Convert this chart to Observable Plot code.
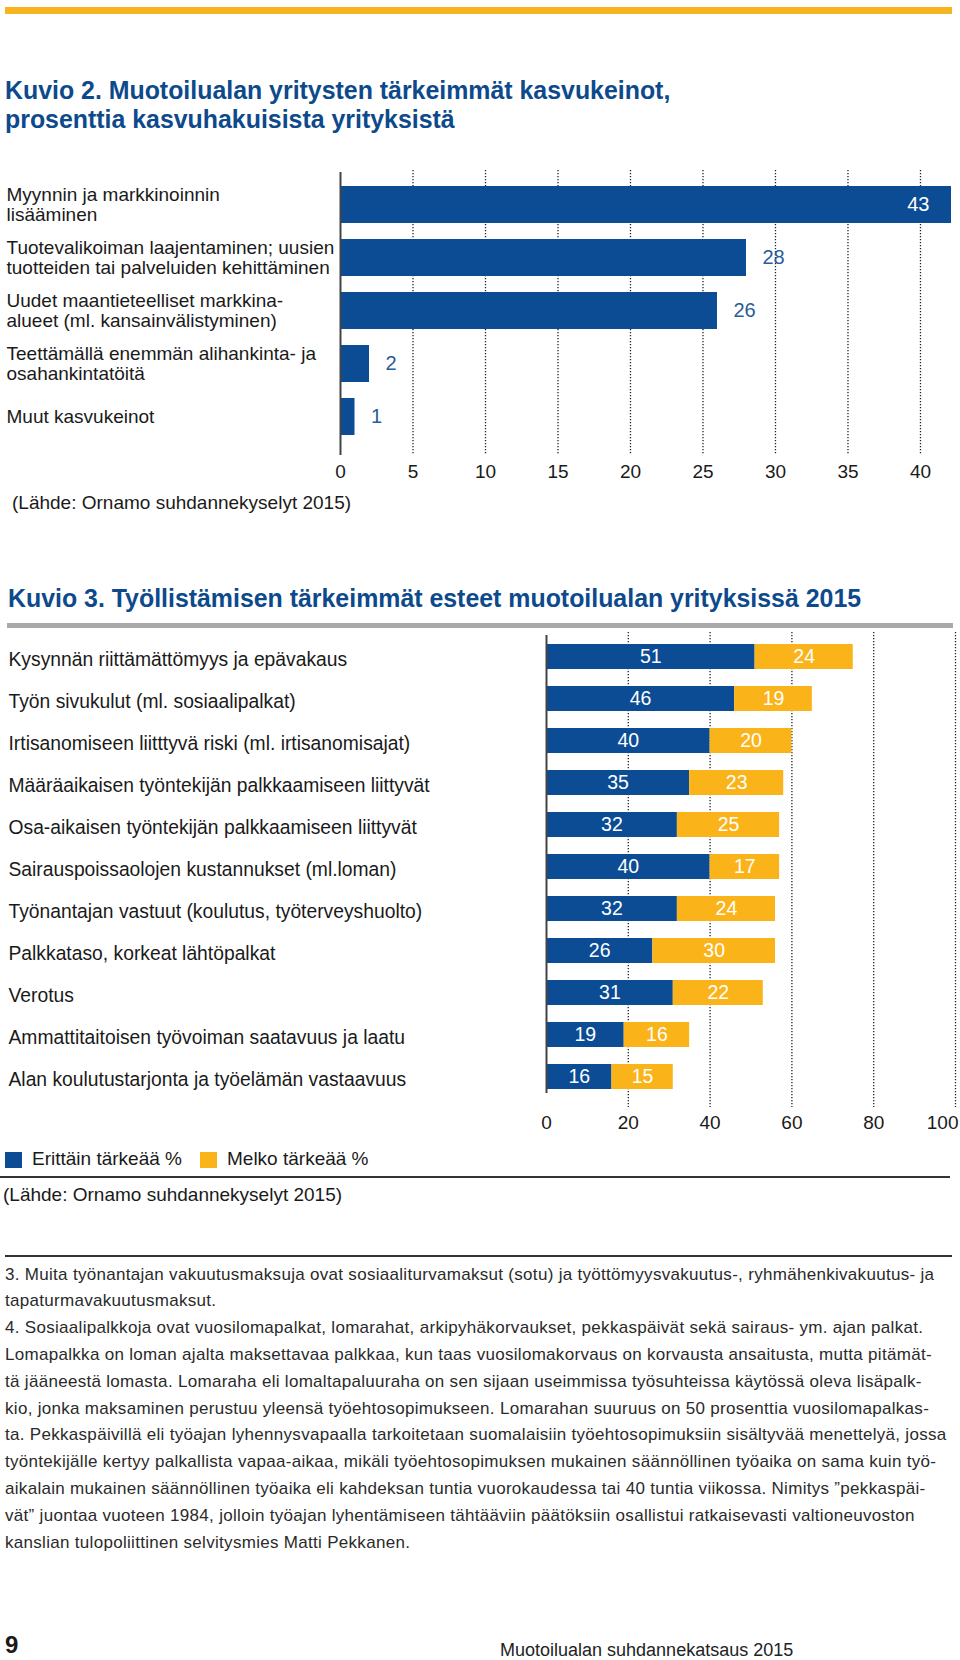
<!DOCTYPE html>
<html lang="fi">
<head>
<meta charset="utf-8">
<script src="https://cdn.jsdelivr.net/npm/d3@7"></script>
<script src="https://cdn.jsdelivr.net/npm/@observablehq/plot@0.6"></script>
<style>
  html, body { margin: 0; padding: 0; background: #fff; }
  body { font-family: "Liberation Sans", Arial, Helvetica, sans-serif; color: #1a1a1a; }
  #page { position: relative; width: 960px; height: 1660px; overflow: hidden; }
  .abs { position: absolute; white-space: nowrap; }
  .title { color: #0d4a8c; font-weight: bold; font-size: 24.9px; line-height: 28.5px; }
  .src { font-size: 19px; line-height: 22px; color: #1a1a1a; }
  .rule { position: absolute; }
  .fn { font-size: 17px; letter-spacing: 0.3px; line-height: 26.8px; color: #2a2a2a; }
  .leg-sw { position: absolute; width: 17px; height: 16px; }
  .leg-tx { font-size: 19px; line-height: 22px; }
  svg { overflow: visible; }
</style>
</head>
<body>
<div id="page"></div>
<script>
// ---------- Data ----------
const growthCategories = [
  "Myynnin ja markkinoinnin\nlisääminen",
  "Tuotevalikoiman laajentaminen; uusien\ntuotteiden tai palveluiden kehittäminen",
  "Uudet maantieteelliset markkina-\nalueet (ml. kansainvälistyminen)",
  "Teettämällä enemmän alihankinta- ja\nosahankintatöitä",
  "Muut kasvukeinot"
];
const growthValues = [43, 28, 26, 2, 1];
const growthTicks = [0, 5, 10, 15, 20, 25, 30, 35, 40];

const obstacleCategories = [
  "Kysynnän riittämättömyys ja epävakaus",
  "Työn sivukulut (ml. sosiaalipalkat)",
  "Irtisanomiseen liitttyvä riski (ml. irtisanomisajat)",
  "Määräaikaisen työntekijän palkkaamiseen liittyvät",
  "Osa-aikaisen työntekijän palkkaamiseen liittyvät",
  "Sairauspoissaolojen kustannukset (ml.loman)",
  "Työnantajan vastuut (koulutus, työterveyshuolto)",
  "Palkkataso, korkeat lähtöpalkat",
  "Verotus",
  "Ammattitaitoisen työvoiman saatavuus ja laatu",
  "Alan koulutustarjonta ja työelämän vastaavuus"
];
const seriesNames = ["Erittäin tärkeää %", "Melko tärkeää %"];
const veryImportant   = [51, 46, 40, 35, 32, 40, 32, 26, 31, 19, 16];
const fairlyImportant = [24, 19, 20, 23, 25, 17, 24, 30, 22, 16, 15];
const obstacleTicks = [0, 20, 40, 60, 80, 100];

const title2Lines = ["Kuvio 2. Muotoilualan yritysten tärkeimmät kasvukeinot,", "prosenttia kasvuhakuisista yrityksistä"];
const title3 = "Kuvio 3. Työllistämisen tärkeimmät esteet muotoilualan yrityksissä 2015";
const sourceText = "(Lähde: Ornamo suhdannekyselyt 2015)";
const footnoteLines = [
  "3. Muita työnantajan vakuutusmaksuja ovat sosiaaliturvamaksut (sotu) ja työttömyysvakuutus-, ryhmähenkivakuutus- ja",
  "tapaturmavakuutusmaksut.",
  "4. Sosiaalipalkkoja ovat vuosilomapalkat, lomarahat, arkipyhäkorvaukset, pekkaspäivät sekä sairaus- ym. ajan palkat.",
  "Lomapalkka on loman ajalta maksettavaa palkkaa, kun taas vuosilomakorvaus on korvausta ansaitusta, mutta pitämät-",
  "tä jääneestä lomasta. Lomaraha eli lomaltapaluuraha on sen sijaan useimmissa työsuhteissa käytössä oleva lisäpalk-",
  "kio, jonka maksaminen perustuu yleensä työehtosopimukseen. Lomarahan suuruus on 50 prosenttia vuosilomapalkas-",
  "ta. Pekkaspäivillä eli työajan lyhennysvapaalla tarkoitetaan suomalaisiin työehtosopimuksiin sisältyvää menettelyä, jossa",
  "työntekijälle kertyy palkallista vapaa-aikaa, mikäli työehtosopimuksen mukainen säännöllinen työaika on sama kuin työ-",
  "aikalain mukainen säännöllinen työaika eli kahdeksan tuntia vuorokaudessa tai 40 tuntia viikossa. Nimitys ”pekkaspäi-",
  "vät” juontaa vuoteen 1984, jolloin työajan lyhentämiseen tähtääviin päätöksiin osallistui ratkaisevasti valtioneuvoston",
  "kanslian tulopoliittinen selvitysmies Matti Pekkanen."
];
const pageNumber = "9";
const footerText = "Muotoilualan suhdannekatsaus 2015";

// ---------- Styles ----------
const BLUE = "#0b4c95";
const YELLOW = "#fbb31a";
const LABEL_BLUE = "#2a5b9b";
const FONT = "Liberation Sans, Arial, Helvetica, sans-serif";

const page = document.getElementById("page");
function el(tag, cls, css, text) {
  const e = document.createElement(tag);
  if (cls) e.className = cls;
  Object.assign(e.style, css);
  if (text != null) e.textContent = text;
  page.appendChild(e);
  return e;
}

// top yellow band
el("div", "rule", {left: "5px", top: "7px", width: "947px", height: "7px", background: "#f8b320"});

// title 2
title2Lines.forEach((t, i) => el("div", "abs title", {left: "5px", top: (76 + i * 28.5) + "px"}, t));

// ---------- Chart 1 ----------
const growthData = growthCategories.map((c, i) => ({category: c, value: growthValues[i], label: String(growthValues[i])}));

const chart1 = Plot.plot({
  width: 960,
  height: 345,
  marginLeft: 340,
  marginRight: 9,
  marginTop: 18.25,
  marginBottom: 42.25,
  style: {fontFamily: FONT, fontSize: "19px", color: "#1a1a1a", background: "transparent", overflow: "visible"},
  x: {domain: [0, 42.14], clamp: true},
  y: {domain: growthCategories, padding: 0.293, axis: null},
  marks: [
    Plot.ruleX(growthTicks.slice(1), {stroke: "#222", strokeWidth: 1.3, strokeDasharray: "1.3,1.7", insetTop: 1.75, insetBottom: -2.25}),
    Plot.barX(growthData, {x: "value", y: "category", fill: BLUE}),
    Plot.ruleX([0], {stroke: "#444", strokeWidth: 2, insetTop: 3.75, insetBottom: -2.25}),
    Plot.text(growthData.filter(d => d.value > 35), {x: "value", y: "category", text: "label", fill: "white", textAnchor: "end", dx: -22, fontSize: 20}),
    Plot.text(growthData.filter(d => d.value <= 35), {x: "value", y: "category", text: "label", fill: LABEL_BLUE, textAnchor: "start", dx: 16, fontSize: 20}),
    Plot.text(growthData, {y: "category", text: "category", frameAnchor: "left", textAnchor: "start", dx: -334, lineHeight: 1.053, fontSize: 19, fill: "#1a1a1a"}),
    Plot.axisX(growthTicks, {anchor: "bottom", tickSize: 0, tickPadding: 11.5, fontSize: 19, label: null})
  ]
});
const c1 = document.createElement("div");
c1.className = "abs";
Object.assign(c1.style, {left: "0px", top: "150px"});
c1.appendChild(chart1);
page.appendChild(c1);

el("div", "abs src", {left: "12px", top: "492px"}, sourceText);

// title 3 and grey rule
el("div", "abs title", {left: "8px", top: "584px", lineHeight: "28px"}, title3);
el("div", "rule", {left: "7px", top: "623px", width: "946px", height: "4.5px", background: "#a9a9a9"});

// ---------- Chart 2 ----------
const obstacleData = obstacleCategories.flatMap((c, i) => [
  {category: c, series: seriesNames[0], value: veryImportant[i]},
  {category: c, series: seriesNames[1], value: fairlyImportant[i]}
]);

const chart2 = Plot.plot({
  width: 960,
  height: 530,
  marginLeft: 546,
  marginRight: 5,
  marginTop: 10.4,
  marginBottom: 36.7,
  style: {fontFamily: FONT, fontSize: "19px", color: "#1a1a1a", background: "transparent", overflow: "visible"},
  x: {domain: [0, 100]},
  y: {domain: obstacleCategories, padding: 0.4094, axis: null},
  color: {domain: seriesNames, range: [BLUE, YELLOW]},
  marks: [
    Plot.ruleX(obstacleTicks.slice(1), {stroke: "#222", strokeWidth: 1.3, strokeDasharray: "1.3,1.7", insetTop: 6.6, insetBottom: 1.3}),
    Plot.barX(obstacleData, Plot.stackX({x: "value", y: "category", fill: "series"})),
    Plot.ruleX([0], {stroke: "#444", strokeWidth: 2, insetTop: 9.6, insetBottom: 15.3}),
    Plot.text(obstacleData, Plot.stackX({x: "value", y: "category", z: "series", text: d => String(d.value), fill: "white", fontSize: 19.5})),
    Plot.text(obstacleCategories, {y: d => d, text: d => d, frameAnchor: "left", textAnchor: "start", dx: -538, dy: 3, fontSize: 19.3, fill: "#1a1a1a"}),
    Plot.axisX(obstacleTicks.slice(0, -1), {anchor: "bottom", tickSize: 0, tickPadding: 7, fontSize: 19, label: null}),
    Plot.axisX(obstacleTicks.slice(-1), {anchor: "bottom", tickSize: 0, tickPadding: 7, fontSize: 19, label: null, textAnchor: "end", dx: 3})
  ]
});
const c2 = document.createElement("div");
c2.className = "abs";
Object.assign(c2.style, {left: "0px", top: "615px"});
c2.appendChild(chart2);
page.appendChild(c2);

// legend
const legendX = [[5, 32], [200, 227]];
seriesNames.forEach((s, i) => {
  el("div", "leg-sw", {left: legendX[i][0] + "px", top: "1152px", background: [BLUE, YELLOW][i]});
  el("div", "abs leg-tx", {left: legendX[i][1] + "px", top: "1148px"}, s);
});
el("div", "rule", {left: "0px", top: "1176px", width: "950px", height: "1.6px", background: "#333"});
el("div", "abs src", {left: "3px", top: "1184px"}, sourceText);

// footnotes
el("div", "rule", {left: "5px", top: "1255px", width: "947px", height: "1.6px", background: "#333"});
footnoteLines.forEach((t, i) => el("div", "abs fn", {left: "5px", top: (1261.6 + i * 26.8) + "px"}, t));

// footer
el("div", "abs", {left: "5px", top: "1631px", fontSize: "24px", fontWeight: "bold", lineHeight: "28px", color: "#1a1a1a"}, pageNumber);
el("div", "abs", {left: "500px", top: "1639px", fontSize: "18px", lineHeight: "22px", color: "#222"}, footerText);
</script>
</body>
</html>
